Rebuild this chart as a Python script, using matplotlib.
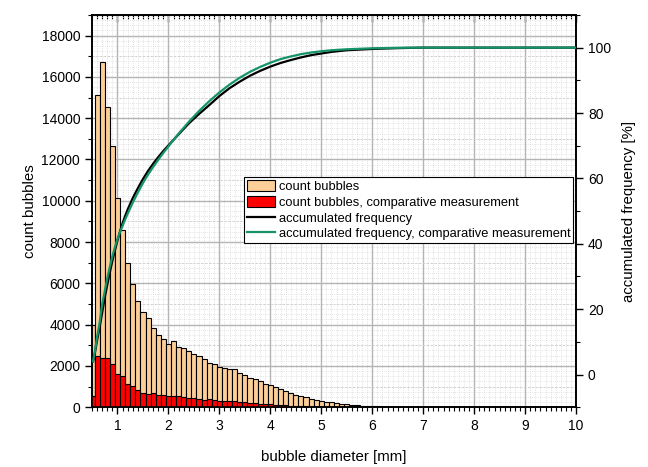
import numpy as np
import matplotlib
matplotlib.use("Agg")
import matplotlib.pyplot as plt
from matplotlib.patches import Patch
from matplotlib.lines import Line2D
from matplotlib.ticker import MultipleLocator

plt.rcParams['font.family'] = ['Liberation Sans', 'DejaVu Sans']

# bin centres of the histogram [mm]
diameter = [0.5, 0.6, 0.7, 0.8, 0.9, 1.0, 1.1, 1.2, 1.3, 1.4,
            1.5, 1.6, 1.7, 1.8, 1.9, 2.0, 2.1, 2.2, 2.3, 2.4,
            2.5, 2.6, 2.7, 2.8, 2.9, 3.0, 3.1, 3.2, 3.3, 3.4,
            3.5, 3.6, 3.7, 3.8, 3.9, 4.0, 4.1, 4.2, 4.3, 4.4,
            4.5, 4.6, 4.7, 4.8, 4.9, 5.0, 5.1, 5.2, 5.3, 5.4,
            5.5, 5.6, 5.7, 5.8, 5.9, 6.0, 6.1, 6.2, 6.3, 6.4,
            6.5, 6.6, 6.7, 6.8, 6.9, 7.0]

count_main = [4000, 15130, 16700, 14560, 12650, 10150, 8560, 6970, 5970, 5150,
              4590, 4310, 3860, 3490, 3290, 3080, 3210, 2920, 2890, 2720,
              2590, 2480, 2340, 2160, 2110, 1970, 1900, 1830, 1830, 1670,
              1560, 1430, 1370, 1265, 1135, 1070, 990, 860, 790, 697,
              616, 535, 486, 405, 340, 308, 259, 243, 211, 162,
              162, 130, 97, 81, 65, 49, 49, 35, 30, 22,
              18, 14, 10, 8, 6, 4]

count_comp = [535, 2500, 2400, 2400, 2080, 1600, 1490, 1120, 1040, 811,
              680, 640, 690, 616, 590, 560, 535, 520, 486, 454,
              450, 422, 373, 390, 373, 324, 324, 292, 292, 259,
              243, 211, 211, 178, 178, 162, 130, 110, 90, 80,
              65, 50, 40, 30, 25, 20, 15, 12, 10, 8,
              5, 0, 0, 0, 0, 0, 0, 0, 0, 0,
              0, 0, 0, 0, 0, 0]

# accumulated frequency curves [%]
acc_x = [0.52, 0.55, 0.6, 0.65, 0.7, 0.75, 0.8, 0.85, 0.9, 0.95,
         1.0, 1.05, 1.1, 1.15, 1.2, 1.3, 1.4, 1.5, 1.6, 1.7,
         1.8, 1.9, 2.0, 2.2, 2.4, 2.6, 2.8, 3.0, 3.2, 3.4,
         3.6, 3.8, 4.0, 4.2, 4.4, 4.6, 4.8, 5.0, 5.2, 5.5,
         6.0, 6.5, 7.0, 10.0]
acc_main = [4, 6, 10.5, 14.5, 19, 23.5, 27.5, 31.3, 34.8, 38,
            41, 43.8, 46.3, 48.5, 50.5, 54, 57, 59.8, 62.3, 64.5,
            66.5, 68.4, 70.1, 73.5, 76.8, 79.7, 82.4, 85.2, 87.6, 89.6,
            91.4, 92.9, 94.2, 95.3, 96.2, 97.0, 97.7, 98.2, 98.7, 99.2,
            99.6, 99.85, 100, 100]
acc_comp = [4, 6.5, 11.5, 16, 21.5, 25.5, 29.5, 33, 36.2, 39,
            41.5, 43.6, 45.5, 47.4, 49.2, 52.6, 55.7, 58.6, 61.2, 63.5,
            65.7, 67.8, 69.8, 73.7, 77.3, 80.6, 83.6, 86.3, 88.7, 90.8,
            92.6, 94.1, 95.4, 96.5, 97.3, 98.0, 98.5, 98.9, 99.2, 99.5,
            99.8, 99.95, 100, 100]

c_orange = '#FDCF98'
c_red = '#FF0000'
c_green = '#15936A'

fig = plt.figure(figsize=(6.48, 4.67), dpi=100)
ax = fig.add_axes([0.142, 0.128, 0.747, 0.84])

# grid: fine dotted, dashed at 1000, solid majors
ax.set_axisbelow(True)
for yv in np.arange(250, 19000, 250):
    ax.axhline(yv, color='#dcdcdc', lw=0.6, ls=(0, (1, 1.5)), zorder=0)
ax.xaxis.set_minor_locator(MultipleLocator(0.1))
ax.yaxis.set_minor_locator(MultipleLocator(1000))
ax.grid(which='minor', axis='x', color='#d8d8d8', lw=0.6, ls=(0, (1, 1.5)))
ax.grid(which='minor', axis='y', color='#d0d0d0', lw=0.7, ls=(0, (2, 2)))
ax.grid(which='major', color='#b4b4b4', lw=1.0)

ax.bar(diameter, count_main, width=0.1, color=c_orange, edgecolor='black', lw=0.8, zorder=2)
ax.bar(diameter, count_comp, width=0.1, color=c_red, edgecolor='black', lw=0.8, zorder=3)

ax.set_xlim(0.5, 10)
ax.set_ylim(0, 19000)
ax.xaxis.set_major_locator(MultipleLocator(1))
ax.set_yticks(np.arange(0, 18001, 2000))
ax.tick_params(which='both', direction='out', labelsize=10)
ax.tick_params(which='major', length=5, width=1)
ax.tick_params(which='minor', length=3, width=0.8)
ax.set_xlabel('bubble diameter [mm]', fontsize=10.8, labelpad=12)
ax.set_ylabel('count bubbles', fontsize=10.8, labelpad=3)

# top axis with inward ticks, no labels
top = ax.secondary_xaxis('top')
top.xaxis.set_major_locator(MultipleLocator(1))
top.xaxis.set_minor_locator(MultipleLocator(0.1))
top.tick_params(which='both', direction='in', labeltop=False)
top.tick_params(which='major', length=5, width=1)
top.tick_params(which='minor', length=3, width=0.8)

ax2 = ax.twinx()
ax2.plot(acc_x, acc_main, color='black', lw=1.6, zorder=4)
ax2.plot(acc_x, acc_comp, color=c_green, lw=1.6, zorder=5)
ax2.set_ylim(-10, 110)
ax2.set_yticks([0, 20, 40, 60, 80, 100])
ax2.yaxis.set_minor_locator(MultipleLocator(10))
ax2.tick_params(which='both', direction='out', labelsize=10)
ax2.tick_params(which='major', length=5, width=1)
ax2.tick_params(which='minor', length=3, width=0.8)
ax2.set_ylabel('accumulated frequency [%]', fontsize=10.8, labelpad=8)

for a in (ax, ax2):
    for s in a.spines.values():
        s.set_linewidth(1.2)

handles = [Patch(facecolor=c_orange, edgecolor='black', lw=0.8),
           Patch(facecolor=c_red, edgecolor='black', lw=0.8),
           Line2D([], [], color='black', lw=1.6),
           Line2D([], [], color=c_green, lw=1.6)]
labels = ['count bubbles', 'count bubbles, comparative measurement',
          'accumulated frequency', 'accumulated frequency, comparative measurement']
leg = ax2.legend(handles, labels, loc='upper right', bbox_to_anchor=(0.994, 0.586),
                 borderaxespad=0, fontsize=9.3, frameon=True, fancybox=False,
                 edgecolor='black', framealpha=1, handlelength=2.2, handleheight=1.0,
                 handletextpad=0.3, labelspacing=0.2, borderpad=0.2)
leg.get_frame().set_linewidth(0.8)
leg.set_zorder(10)

fig.savefig('out.png', dpi=100)
